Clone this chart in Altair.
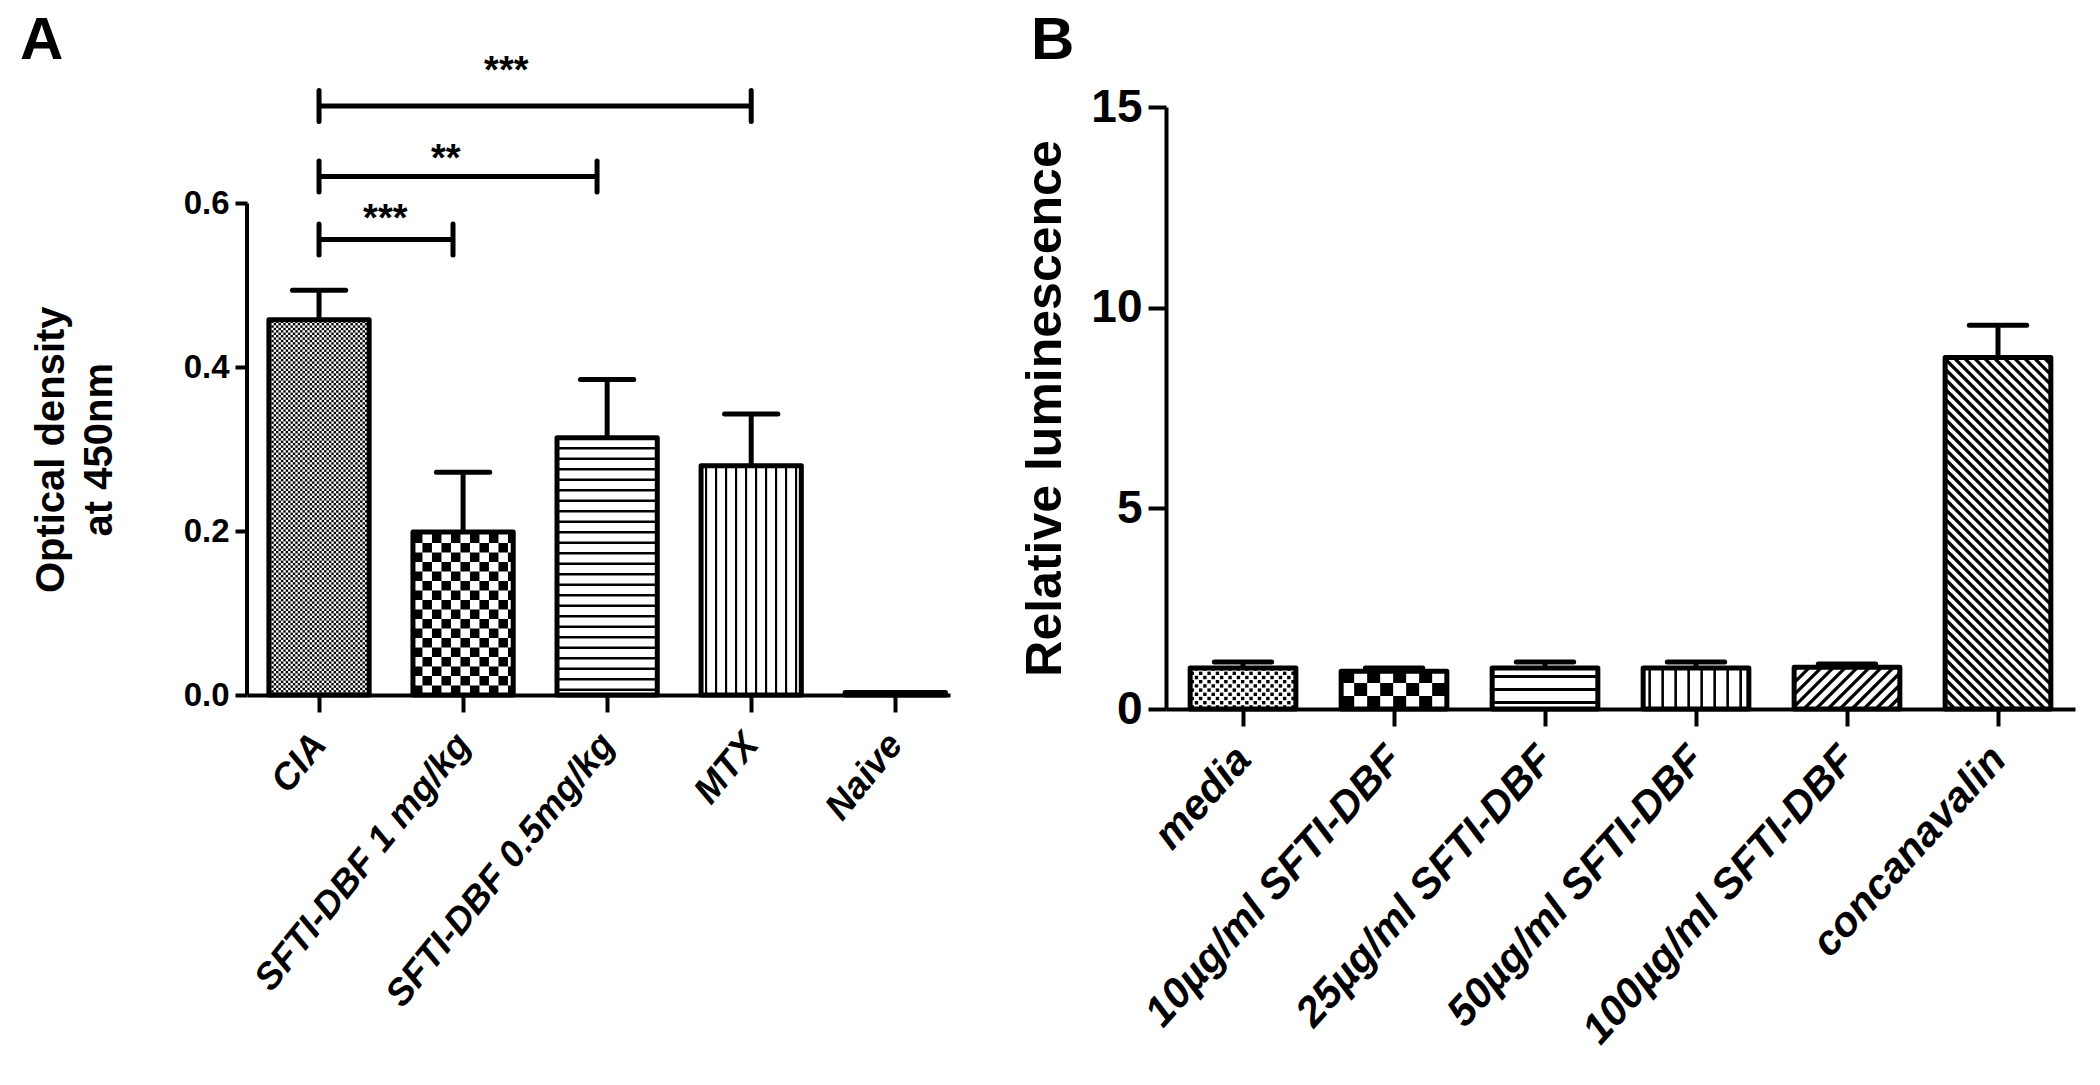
import altair as alt
import numpy as np
import pandas as pd

# ---------------- Panel A data ----------------
a_categories = ["CIA", "SFTI-DBF 1 mg/kg", "SFTI-DBF 0.5mg/kg", "MTX", "Naive"]
a_means = [0.458, 0.199, 0.314, 0.280, 0.003]
a_errors = [0.036, 0.073, 0.071, 0.063, 0.0]
a_patterns = ["dots", "checker", "hlines", "vlines", "none"]
a_ticks = [0, 0.2, 0.4, 0.6]

# significance brackets (panel A)
sig_x_start = [0.0, 0.0, 0.0]
sig_x_end = [0.93, 1.93, 3.0]
sig_level = [0.556, 0.633, 0.719]
sig_text = ["***", "**", "***"]
sig_text_x = [0.46, 0.88, 1.30]
sig_text_y = [0.566, 0.640, 0.747]

# ---------------- Panel B data ----------------
b_categories = ["media", "10µg/ml SFTI-DBF", "25µg/ml SFTI-DBF",
                "50µg/ml SFTI-DBF", "100µg/ml SFTI-DBF", "concanavalin"]
b_means = [1.02, 0.94, 1.02, 1.02, 1.04, 8.76]
b_errors = [0.15, 0.08, 0.15, 0.15, 0.08, 0.80]
b_patterns = ["dots", "checker", "hlines", "vlines", "fdiag", "bdiag"]
b_ticks = [0, 5, 10, 15]

FONT = "Liberation Sans"

# layout (pixels)
WA, HA = 703, 588
WB, HB = 909, 602
XDOM_A = [-0.5, 4.38]
XDOM_B = [-0.51, 5.51]
YDOM_A = [0, 0.7178]   # axis line itself stops at 0.6
YDOM_B = [0, 15]
TOP_PAD = 3


def texture(means, patterns, half, kx, ky, spec):
    rects, rules = [], []
    for idx, (m, pat) in enumerate(zip(means, patterns)):
        if pat == "none" or m * ky < 6:
            continue
        x0, x1 = idx - half, idx + half
        y0, y1 = 0.0, m
        if pat in ("dots", "checker"):
            cell, dot = spec[pat]
            cx, cy, dx, dy = cell / kx, cell / ky, dot / kx, dot / ky
            nx = int(np.ceil((x1 - x0) / cx))
            ny = int(np.ceil((y1 - y0) / cy))
            for i in range(nx):
                for j in range(ny):
                    if (i + j) % 2:
                        continue
                    xa = x0 + i * cx + (cx - dx) / 2
                    xb = min(xa + dx, x1)
                    ya = y0 + j * cy + (cy - dy) / 2
                    yb = min(ya + dy, y1)
                    if xb > xa and yb > ya:
                        rects.append(dict(tx=xa, tx2=xb, ty=ya, ty2=yb))
        elif pat == "hlines":
            per, th = spec[pat]
            p, t = per / ky, th / ky
            y = y0 + p / 2
            while y < y1:
                rects.append(dict(tx=x0, tx2=x1, ty=y - t / 2, ty2=min(y + t / 2, y1)))
                y += p
        elif pat == "vlines":
            per, th = spec[pat]
            p, t = per / kx, th / kx
            x = x0 + p / 2
            while x < x1:
                rects.append(dict(tx=x - t / 2, tx2=min(x + t / 2, x1), ty=y0, ty2=y1))
                x += p
        elif pat in ("fdiag", "bdiag"):
            per = spec[pat][0]
            X1 = (x1 - x0) * kx
            Y1 = (y1 - y0) * ky
            if pat == "fdiag":
                for c in np.arange(-X1, Y1, per):
                    xa, xb = max(0, -c), min(X1, Y1 - c)
                    if xb > xa:
                        rules.append(dict(rx=x0 + xa / kx, ry=(xa + c) / ky,
                                          rx2=x0 + xb / kx, ry2=(xb + c) / ky))
            else:
                for c in np.arange(0, X1 + Y1, per):
                    xa, xb = max(0, c - Y1), min(X1, c)
                    if xb > xa:
                        rules.append(dict(rx=x0 + xa / kx, ry=(c - xa) / ky,
                                          rx2=x0 + xb / kx, ry2=(c - xb) / ky))
    return pd.DataFrame(rects), pd.DataFrame(rules)


def label_expr(cats):
    arr = ",".join("'" + c + "'" for c in cats)
    return "[" + arr + "][round(datum.value)]"


def make_panel(cats, means, errs, pats, W, H, xdom, ydom, half, capw,
               spec, xaxis, yaxis, letter, letter_xy, diag_w, extra=None):
    kx = W / (xdom[1] - xdom[0])
    ky = H / (ydom[1] - ydom[0])
    df = pd.DataFrame({"cat": cats, "mean": means, "err": errs})
    df["i"] = range(len(cats))
    df["x0"] = df["i"] - half
    df["x1"] = df["i"] + half
    df["base"] = 0.0
    df["top"] = df["mean"] + df["err"]
    df["c0"] = df["i"] - capw / 2
    df["c1"] = df["i"] + capw / 2
    xs = alt.Scale(domain=xdom, nice=False, zero=False)
    ys = alt.Scale(domain=ydom, nice=False)

    base = alt.Chart(df)
    fill = base.mark_rect(fill="white", strokeWidth=0).encode(
        x=alt.X("x0:Q", scale=xs, axis=xaxis), x2="x1:Q",
        y=alt.Y("base:Q", scale=ys, axis=yaxis), y2="mean:Q")
    layers = [fill]
    trect, trule = texture(means, pats, half, kx, ky, spec)
    if len(trect):
        layers.append(alt.Chart(trect).mark_rect(fill="black", strokeWidth=0).encode(
            x=alt.X("tx:Q", scale=xs, axis=xaxis), x2="tx2:Q",
            y=alt.Y("ty:Q", scale=ys, axis=yaxis), y2="ty2:Q"))
    if len(trule):
        layers.append(alt.Chart(trule).mark_rule(color="black", strokeWidth=diag_w,
                                                 strokeCap="butt").encode(
            x=alt.X("rx:Q", scale=xs, axis=xaxis), x2="rx2:Q",
            y=alt.Y("ry:Q", scale=ys, axis=yaxis), y2="ry2:Q"))
    outline = base.mark_rect(fillOpacity=0, stroke="black", strokeWidth=5,
                             strokeJoin="round").encode(
        x=alt.X("x0:Q", scale=xs, axis=xaxis), x2="x1:Q",
        y=alt.Y("base:Q", scale=ys, axis=yaxis), y2="mean:Q")
    errd = df[df["err"] > 0]
    eb = alt.Chart(errd).mark_rule(color="black", strokeWidth=5).encode(
        x=alt.X("i:Q", scale=xs, axis=xaxis),
        y=alt.Y("mean:Q", scale=ys, axis=yaxis), y2="top:Q")
    cap = alt.Chart(errd).mark_rule(color="black", strokeWidth=5,
                                    strokeCap="round").encode(
        x=alt.X("c0:Q", scale=xs, axis=xaxis), x2="c1:Q",
        y=alt.Y("top:Q", scale=ys, axis=yaxis))
    layers += [outline, eb, cap]
    if extra is not None:
        layers += extra(xs, ys, xaxis, yaxis)
    let = alt.Chart(pd.DataFrame({"t": [letter]})).mark_text(
        font=FONT, fontWeight="bold", fontSize=60, align="left",
        baseline="alphabetic", color="black").encode(
        text="t:N", x=alt.value(letter_xy[0]), y=alt.value(letter_xy[1]))
    layers.append(let)
    return alt.layer(*layers).properties(width=W, height=H)


def extras_a(xs, ys, xaxis, yaxis):
    # y-axis line of panel A, running from 0 to the top tick only
    ax = alt.Chart(pd.DataFrame({"y0": [a_ticks[0]], "y1": [a_ticks[-1]]})).mark_rule(
        color="black", strokeWidth=4).encode(
        x=alt.value(0), y=alt.Y("y0:Q", scale=ys, axis=yaxis), y2="y1:Q")
    bdf = pd.DataFrame({"xs": sig_x_start, "xe": sig_x_end, "lv": sig_level})
    ends = pd.DataFrame({
        "ex": sig_x_start + sig_x_end,
        "lo": [l - 0.019 for l in sig_level] * 2,
        "hi": [l + 0.019 for l in sig_level] * 2})
    tdf = pd.DataFrame({"s": sig_text, "sx": sig_text_x, "sy": sig_text_y})
    h = alt.Chart(bdf).mark_rule(color="black", strokeWidth=5).encode(
        x=alt.X("xs:Q", scale=xs, axis=xaxis), x2="xe:Q",
        y=alt.Y("lv:Q", scale=ys, axis=yaxis))
    v = alt.Chart(ends).mark_rule(color="black", strokeWidth=5,
                                  strokeCap="round").encode(
        x=alt.X("ex:Q", scale=xs, axis=xaxis),
        y=alt.Y("lo:Q", scale=ys, axis=yaxis), y2="hi:Q")
    t = alt.Chart(tdf).mark_text(font=FONT, fontWeight="bold", fontSize=38,
                                 color="black", baseline="alphabetic").encode(
        x=alt.X("sx:Q", scale=xs, axis=xaxis),
        y=alt.Y("sy:Q", scale=ys, axis=yaxis), text="s:N")
    return [ax, h, v, t]


common = dict(domainColor="black", tickColor="black", labelColor="black",
              titleColor="black", grid=False, labelFont=FONT, titleFont=FONT,
              labelFontWeight="bold", titleFontWeight="bold",
              labelOverlap=False, labelFlush=False, labelBound=False,
              labelLimit=1000)

# pixel scale of panel A's y axis, used to centre its title on the 0-0.6 span
ky_a = HA / (YDOM_A[1] - YDOM_A[0])
title_y_a = HA - (a_ticks[0] + a_ticks[-1]) / 2 * ky_a

xaxis_a = alt.Axis(values=list(range(len(a_categories))),
                   labelExpr=label_expr(a_categories), title=None,
                   labelAngle=-51, labelAlign="right", labelBaseline="middle",
                   labelFontSize=37, labelFontStyle="italic", labelPadding=26,
                   tickSize=17, tickWidth=4, domainWidth=4, **common)
yaxis_a = alt.Axis(values=a_ticks, format=".1f", domain=False,
                   title=["Optical density", "at 450nm"], titleFontSize=40,
                   titleLineHeight=48, titlePadding=64, titleY=title_y_a,
                   labelFontSize=33, labelPadding=6, tickSize=12, tickWidth=4,
                   **common)
xaxis_b = alt.Axis(values=list(range(len(b_categories))),
                   labelExpr=label_expr(b_categories), title=None,
                   labelAngle=-48, labelAlign="right", labelBaseline="middle",
                   labelFontSize=42, labelFontStyle="italic", labelPadding=26,
                   tickSize=17, tickWidth=4, domainWidth=4, **common)
yaxis_b = alt.Axis(values=b_ticks, format="d",
                   title="Relative luminescence", titleFontSize=50,
                   titlePadding=20, labelFontSize=46, labelPadding=6,
                   tickSize=18, tickWidth=4, domainWidth=4, **common)

spec_a = {"dots": (2.4, 2.4), "checker": (9.5, 9.5), "hlines": (10.5, 2.6),
          "vlines": (10.0, 2.2)}
spec_b = {"dots": (4.2, 3.4), "checker": (13.0, 13.0), "hlines": (13.0, 3.0),
          "vlines": (13.0, 2.6), "fdiag": (12.0,), "bdiag": (10.0,)}

panel_a = make_panel(a_categories, a_means, a_errors, a_patterns, WA, HA,
                     XDOM_A, YDOM_A, 0.348, 0.37, spec_a, xaxis_a, yaxis_a,
                     "A", (-227, -50.7 + TOP_PAD), 3, extra=extras_a)
panel_b = make_panel(b_categories, b_means, b_errors, b_patterns, WB, HB,
                     XDOM_B, YDOM_B, 0.35, 0.38, spec_b, xaxis_b, yaxis_b,
                     "B", (-135, -50.7 + TOP_PAD), 3.2)

chart = alt.hconcat(panel_a, panel_b, spacing=70).properties(
    padding={"left": 12, "top": TOP_PAD, "right": 5, "bottom": 0},
    background="white"
).configure_view(stroke=None)

chart.save("out.html", embed_options={"renderer": "svg", "actions": False})
